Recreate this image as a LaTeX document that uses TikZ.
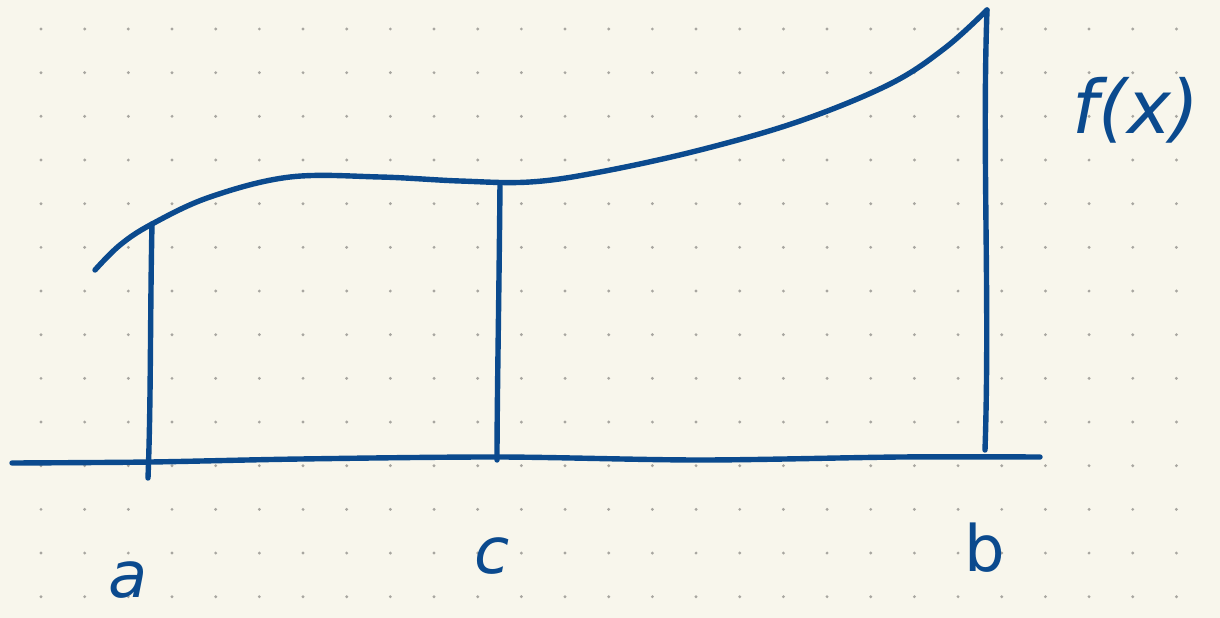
\documentclass[tikz,border=0pt]{standalone}
\usepackage{fontspec}
\setmainfont{DejaVu Sans}
\definecolor{paper}{HTML}{F8F6EC}
\definecolor{ink}{HTML}{0B4A8E}
\definecolor{dotc}{HTML}{A8A6A0}
\begin{document}
\begin{tikzpicture}[x=1pt,y=-1pt,
  stroke/.style={draw=ink,line width=5.4pt,line cap=round,line join=round},
  lbl/.style={text=ink,inner sep=0pt,font=\fontsize{64}{64}\selectfont}]
\fill[paper] (0,0) rectangle (1220,618);
\useasboundingbox (0,0) rectangle (1220,618);
\foreach \i in {0,...,26}{\foreach \j in {0,...,13}{
  \fill[dotc] ({41+43.67*\i},{29+43.67*\j}) circle (1.6);}}
% named points
\coordinate (cs) at (95,270);
\coordinate (ta) at (152,224);
\coordinate (tc) at (500,183);
\coordinate (tb) at (987,10);
\coordinate (ba) at (148,478);
\coordinate (bc) at (497,460);
\coordinate (bb) at (985,450);
\coordinate (ax0) at (12,463);
\coordinate (ax1) at (1040,457);
% curve f(x)
\draw[stroke] plot[smooth,tension=0.6] coordinates {(95,270) (120,245) (152,224) (210,197) (290,177) (380,177) (460,181) (530,182) (600,172) (700,150) (800,121) (890,84) (945,48) (987,10)};
% right boundary b
\draw[stroke] (tb) .. controls (982,150) and (990,300) .. (bb);
% axis
\draw[stroke] plot[smooth,tension=0.5] coordinates {(12,463) (150,462) (300,459) (500,457) (700,460) (900,457) (1040,457)};
% verticals
\draw[stroke] (ta) .. controls (150,320) and (151,400) .. (ba);
\draw[stroke] (tc) .. controls (499,300) and (497,400) .. (bc);
% labels
\node[lbl] (la) at (128,580) {\itshape a};
\node[lbl] (lc) at (492,556) {\itshape c};
\node[lbl] (lb) at (985,548) {b};
\node[lbl,font=\fontsize{74}{74}\selectfont\itshape] (lf) at (1136,110) {f(x)};
\end{tikzpicture}
\end{document}
